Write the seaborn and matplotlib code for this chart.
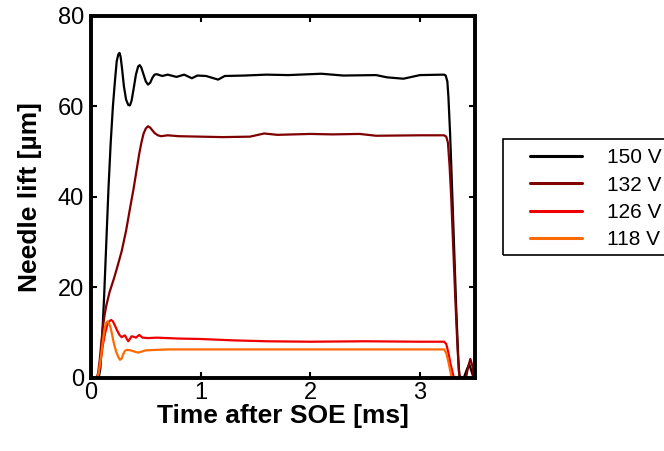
import numpy as np
import pandas as pd
import matplotlib
matplotlib.use("Agg")
import matplotlib.pyplot as plt
from matplotlib.patches import Rectangle
import seaborn as sns

# ---- data ----
t_150 = [0.0, 0.07, 0.085, 0.10, 0.12, 0.14, 0.16, 0.18, 0.20, 0.22, 0.235, 0.25, 0.26, 0.27,
         0.285, 0.30, 0.32, 0.34, 0.355, 0.37, 0.39, 0.41, 0.43, 0.445, 0.46, 0.48, 0.50, 0.52,
         0.54, 0.56, 0.58, 0.60, 0.65, 0.70, 0.78, 0.85, 0.92, 0.97, 1.05, 1.16, 1.22, 1.40,
         1.60, 1.80, 2.10, 2.30, 2.60, 2.70, 2.85, 3.00, 3.22, 3.235, 3.25, 3.26, 3.275, 3.29,
         3.31, 3.33, 3.35, 3.36, 3.37, 3.40, 3.43, 3.45, 3.47, 3.49, 3.50]
v_150 = [0, 0, 2, 8, 18, 30, 42, 52, 60, 66, 70, 71.5, 71.8, 71,
         68, 64.5, 61.5, 60.3, 60.2, 61.2, 64, 67, 68.8, 69.1, 68.5, 67, 65.5, 64.8,
         65.2, 66.3, 67, 67.1, 66.7, 67, 66.5, 67, 66.2, 66.8, 66.7, 65.9, 66.7, 66.8,
         67, 66.9, 67.2, 66.8, 66.9, 66.4, 66.1, 66.9, 67, 66.8, 65.5, 62, 54, 44,
         30, 16, 4, 0.5, 0, 0, 2, 3, 1.5, 0, 0]

t_132 = [0.0, 0.05, 0.065, 0.08, 0.095, 0.11, 0.125, 0.14, 0.17, 0.21, 0.24, 0.28, 0.32, 0.36,
         0.39, 0.42, 0.44, 0.46, 0.48, 0.50, 0.52, 0.54, 0.56, 0.58, 0.61, 0.64, 0.70, 0.80,
         1.00, 1.20, 1.45, 1.58, 1.70, 2.00, 2.20, 2.45, 2.60, 3.00, 3.22, 3.24, 3.255, 3.27,
         3.285, 3.30, 3.32, 3.34, 3.355, 3.365, 3.42, 3.44, 3.46, 3.48, 3.49, 3.50]
v_132 = [0, 0, 1, 4, 8, 11.5, 14, 16, 19, 22, 24.5, 28, 32.5, 38,
         42, 46.5, 49.5, 52, 54, 55.1, 55.6, 55.3, 54.7, 54.1, 53.6, 53.4, 53.6, 53.4,
         53.3, 53.2, 53.3, 54, 53.7, 53.9, 53.8, 53.9, 53.5, 53.6, 53.6, 53.3, 52, 47,
         40, 31, 19, 8, 1.5, 0, 0, 2.5, 4.2, 2.5, 0, 0]

t_126 = [0.0, 0.055, 0.07, 0.09, 0.11, 0.13, 0.15, 0.17, 0.185, 0.20, 0.22, 0.24, 0.26, 0.28,
         0.30, 0.31, 0.325, 0.34, 0.355, 0.37, 0.39, 0.41, 0.44, 0.47, 0.52, 0.60, 0.80, 1.00,
         1.30, 1.60, 2.00, 2.50, 3.00, 3.22, 3.24, 3.26, 3.28, 3.30, 3.31, 3.50]
v_126 = [0, 0, 1, 4, 7.5, 10, 11.8, 12.6, 12.8, 12.5, 11.5, 10.4, 9.5, 9.0,
         9.3, 9.4, 8.7, 8.1, 8.6, 9.2, 9.1, 8.9, 9.5, 8.9, 8.8, 8.9, 8.7, 8.6,
         8.3, 8.1, 8.0, 8.1, 8.0, 8.0, 7.5, 5.5, 3, 1, 0, 0]

t_118 = [0.0, 0.055, 0.07, 0.09, 0.11, 0.125, 0.14, 0.152, 0.165, 0.18, 0.195, 0.21, 0.23, 0.25,
         0.265, 0.28, 0.295, 0.31, 0.33, 0.36, 0.40, 0.43, 0.46, 0.50, 0.70, 1.00, 2.00, 3.00,
         3.22, 3.24, 3.26, 3.28, 3.29, 3.50]
v_118 = [0, 0, 1, 4.5, 8.5, 11, 12.2, 12.5, 12.1, 11, 9.3, 7.5, 5.8, 4.6,
         4.0, 4.3, 5.3, 6.0, 6.2, 6.1, 5.8, 5.6, 5.8, 6.1, 6.3, 6.3, 6.3, 6.3,
         6.3, 5.5, 3.5, 1.2, 0, 0]

labels = ["150 V", "132 V", "126 V", "118 V"]
colors = ["#000000", "#800000", "#EE0000", "#FF6A00"]

x_ticks = [0, 1, 2, 3]
y_ticks = [0, 20, 40, 60, 80]

frames = []
for lab, t, v in zip(labels, [t_150, t_132, t_126, t_118], [v_150, v_132, v_126, v_118]):
    frames.append(pd.DataFrame({"t": t, "v": v, "series": lab}))
df = pd.concat(frames, ignore_index=True)

sns.set_theme(style="ticks")
plt.rcParams["font.family"] = ["Liberation Sans", "DejaVu Sans"]
plt.rcParams["text.color"] = "black"
plt.rcParams["axes.labelcolor"] = "black"

fig = plt.figure(figsize=(6.64, 4.51), dpi=100)
ax = fig.add_axes([0.137, 0.162, 0.578, 0.803])

sns.lineplot(data=df, x="t", y="v", hue="series", hue_order=labels,
             palette=dict(zip(labels, colors)), linewidth=1.6, ax=ax,
             estimator=None, sort=False)

ax.set_xlim(0, 3.5)
ax.set_ylim(0, 80)
ax.set_xticks(x_ticks)
ax.set_yticks(y_ticks)
ax.tick_params(direction="in", length=4, width=1.5, labelsize=17,
               top=True, right=True, pad=5, colors="black")
ax.tick_params(axis="x", pad=3)
for sp in ax.spines.values():
    sp.set_linewidth(2.8)
    sp.set_color("black")
ax.set_xlabel("Time after SOE [ms]", fontsize=19, fontweight="bold", labelpad=0)
ax.set_ylabel("Needle lift [µm]", fontsize=19, fontweight="bold", labelpad=11)

leg = ax.legend(loc="upper left", bbox_to_anchor=(521 / 664, 1 - 139 / 451),
                bbox_transform=fig.transFigure, fontsize=15, frameon=False,
                handlelength=2.5, handletextpad=1.2, labelspacing=0.4,
                borderpad=0.45, borderaxespad=0, title=None)
for line in leg.get_lines():
    line.set_linewidth(2.2)

# legend frame (extends past the right edge of the figure, as in the reference)
fig.patches.append(Rectangle((503 / 664, 1 - 255 / 451), 180 / 664, 116 / 451,
                             transform=fig.transFigure, fill=False,
                             edgecolor="black", linewidth=1.2))

fig.savefig("out.png", dpi=100)
